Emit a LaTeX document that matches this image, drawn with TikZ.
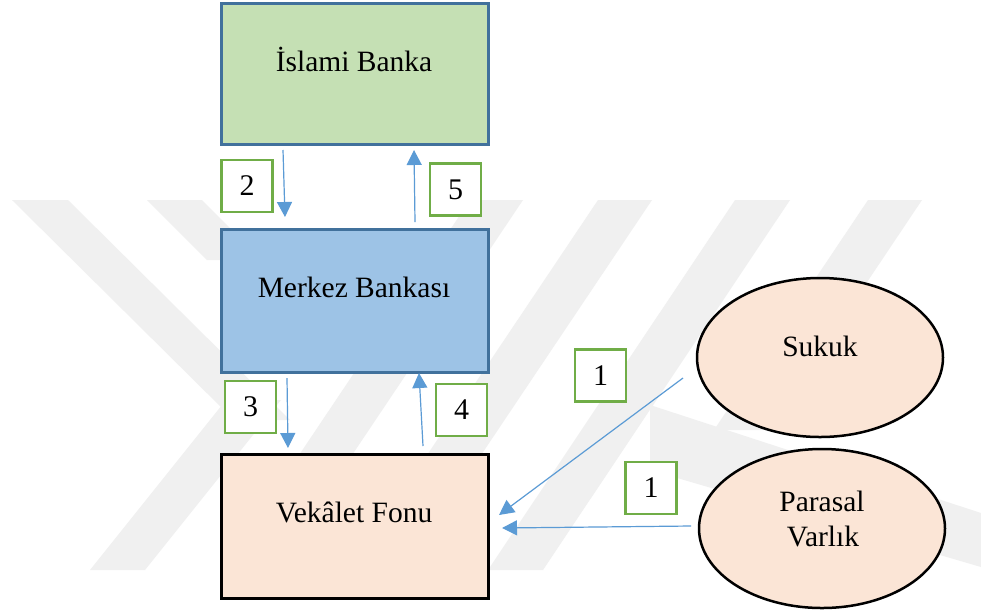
\documentclass[tikz,border=0pt]{standalone}
\usepackage{fontspec}
\setmainfont{Liberation Serif}
\usetikzlibrary{arrows.meta,shapes.geometric}
\definecolor{wmgray}{HTML}{F0F0F0}
\definecolor{bankgreen}{HTML}{C5E0B4}
\definecolor{bankblue}{HTML}{9DC3E6}
\definecolor{edgeblue}{HTML}{41719C}
\definecolor{fundpeach}{HTML}{FBE5D6}
\definecolor{numgreen}{HTML}{70AD47}
\definecolor{flowblue}{HTML}{5B9BD5}
\begin{document}
\begin{tikzpicture}[x=1pt,y=-1pt,
  bigbox/.style={draw, line width=2.5pt, minimum width=267pt, inner sep=0pt, anchor=north west},
  boxtext/.style={anchor=base, font=\fontsize{29.5}{34}\selectfont},
  numbox/.style={draw=numgreen, fill=white, line width=2.5pt, minimum width=51pt, minimum height=52pt, inner sep=0pt, font=\fontsize{30}{34}\selectfont},
  source/.style={ellipse, draw=black, fill=fundpeach, line width=2.5pt, minimum width=246pt, minimum height=159pt, inner sep=0pt},
  flow/.style={draw=flowblue, line width=1.2pt, -{Triangle[length=15pt,width=15pt]}},
  wm/.style={fill=wmgray, draw=none}
]
\useasboundingbox (0,0) rectangle (981,614);
\fill[white] (0,0) rectangle (981,614);

% faint background watermark bands
\fill[wm] (12,200) -- (68,200) -- (290,420) -- (234,420) -- cycle;
\fill[wm] (90,570) -- (145,570) -- (281,400) -- (226,400) -- cycle;
\fill[wm] (147,200) -- (202,200) -- (262,260) -- (207,260) -- cycle;
\fill[wm] (470,200) -- (523,200) -- (275,570) -- (222,570) -- cycle;
\fill[wm] (598,200) -- (652,200) -- (404,570) -- (350,570) -- cycle;
\fill[wm] (735,200) -- (790,200) -- (543,570) -- (488,570) -- cycle;
\fill[wm] (868,200) -- (922,200) -- (768,430) -- (714,430) -- cycle;
\fill[wm] (650,405) -- (981,513) -- (981,567) -- (650,470) -- cycle;

% institutions
\node[bigbox, draw=edgeblue, fill=bankgreen, minimum height=141pt] (ib) at (220,2) {};
\node[boxtext] (ibt) at (354,71) {İslami Banka};
\node[bigbox, draw=edgeblue, fill=bankblue, minimum height=143pt] (mb) at (220,228) {};
\node[boxtext] (mbt) at (354,297) {Merkez Bankası};
\node[bigbox, draw=black, line width=3pt, fill=fundpeach, minimum height=144pt] (vf) at (220,453) {};
\node[boxtext] (vft) at (354,522) {Vekâlet Fonu};

% sources
\node[source] (sk) at (820,357.5) {};
\node[boxtext] (skt) at (820,356) {Sukuk};
\node[source] (pv) at (822,528.5) {};
\node[boxtext] (pvt1) at (822,511) {Parasal};
\node[boxtext] (pvt2) at (823,546) {Varlık};

% step numbers
\node[numbox] (n2) at (247,186) {2};
\node[numbox] (n5) at (455.5,189.5) {5};
\node[numbox] (n3) at (250.5,407) {3};
\node[numbox] (n4) at (461.5,410) {4};
\node[numbox] (n1a) at (600.5,375.5) {1};
\node[numbox] (n1b) at (651,488) {1};

% arrow end points
\coordinate (a2s) at (283,150);  \coordinate (a2e) at (285,217);
\coordinate (a5s) at (415,222);  \coordinate (a5e) at (414,150);
\coordinate (a3s) at (287,378);  \coordinate (a3e) at (288,448);
\coordinate (a4s) at (423,446);  \coordinate (a4e) at (419,373);
\coordinate (a1s) at (683,378);  \coordinate (a1e) at (499,515);
\coordinate (a0s) at (691,526);  \coordinate (a0e) at (502,528);

% flows
\draw[flow] (a2s) -- (a2e);
\draw[flow] (a5s) -- (a5e);
\draw[flow] (a3s) -- (a3e);
\draw[flow] (a4s) -- (a4e);
\draw[flow] (a1s) -- (a1e);
\draw[flow] (a0s) -- (a0e);
\end{tikzpicture}
\end{document}
